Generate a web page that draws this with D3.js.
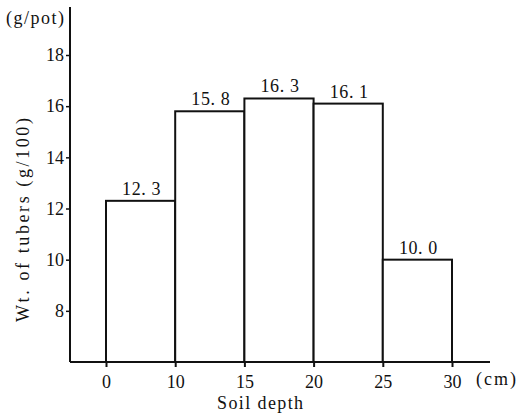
<!DOCTYPE html>
<html>
<head>
<meta charset="utf-8">
<script src="https://cdn.jsdelivr.net/npm/d3@7"></script>
<style>
  body { margin: 0; background: #fff; }
  svg text { font-family: "Liberation Serif", "DejaVu Serif", serif; fill: #111; }
</style>
</head>
<body>
<div id="chart"></div>
<script>
// soil depth boundaries (cm) and tuber weight per layer
const depthTicks = ["0", "10", "15", "20", "25", "30"];
const layers = [
  { from: "0", to: "10", value: 12.3 },
  { from: "10", to: "15", value: 15.8 },
  { from: "15", to: "20", value: 16.3 },
  { from: "20", to: "25", value: 16.1 },
  { from: "25", to: "30", value: 10.0 }
];
const yTicks = [8, 10, 12, 14, 16, 18];

(function () {
  let width = 525,
    height = 415;

  let svg = d3.select("#chart")
    .append("svg")
    .attr("width", width)
    .attr("height", height);

  let x = d3.scalePoint().domain(depthTicks).range([106, 452]);
  let y = d3.scaleLinear().domain([6, 18]).range([362, 55]);

  // bars
  svg.selectAll("rect.bar")
    .data(layers)
    .enter()
    .append("rect")
    .attr("class", "bar")
    .attr("x", d => x(d.from))
    .attr("y", d => y(d.value))
    .attr("width", d => x(d.to) - x(d.from))
    .attr("height", d => y(6) - y(d.value))
    .attr("fill", "#fff")
    .attr("stroke", "#111")
    .attr("stroke-width", 2);

  // value labels
  svg.selectAll("text.val")
    .data(layers)
    .enter()
    .append("text")
    .attr("class", "val")
    .attr("x", d => (x(d.from) + x(d.to)) / 2 + 1)
    .attr("y", d => y(d.value) - 6)
    .attr("text-anchor", "middle")
    .attr("font-size", 18)
    .attr("letter-spacing", 0.6)
    .text(d => d.value.toFixed(1).replace(".", ". "));

  // y axis
  let yAxis = d3.axisLeft(y).tickValues(yTicks).tickSize(4).tickPadding(2);
  let gy = svg.append("g")
    .attr("transform", "translate(70,0)")
    .call(yAxis);
  gy.select(".domain").remove();
  gy.selectAll(".tick line").attr("stroke", "#111").attr("stroke-width", 1.5);
  gy.selectAll(".tick text").attr("font-size", 18).attr("fill", "#111");
  svg.append("line")
    .attr("x1", 70).attr("x2", 70)
    .attr("y1", 7).attr("y2", y(6))
    .attr("stroke", "#111").attr("stroke-width", 2);

  // x axis
  let xAxis = d3.axisBottom(x).tickSize(5).tickPadding(8);
  let gx = svg.append("g")
    .attr("transform", `translate(0,${y(6)})`)
    .call(xAxis);
  gx.select(".domain").remove();
  gx.selectAll(".tick line").attr("stroke", "#111").attr("stroke-width", 2);
  gx.selectAll(".tick text").attr("font-size", 18).attr("fill", "#111");
  svg.append("line")
    .attr("x1", 70).attr("x2", 490)
    .attr("y1", y(6)).attr("y2", y(6))
    .attr("stroke", "#111").attr("stroke-width", 2);

  // axis titles
  svg.append("text")
    .attr("x", 6).attr("y", 24)
    .attr("font-size", 18)
    .attr("letter-spacing", 1.5)
    .text("(g/pot)");
  svg.append("text")
    .attr("x", 476).attr("y", 385)
    .attr("font-size", 18)
    .attr("letter-spacing", 2)
    .text("(cm)");
  svg.append("text")
    .attr("x", 217).attr("y", 409)
    .attr("font-size", 18)
    .attr("letter-spacing", 1.4)
    .text("Soil depth");
  svg.append("text")
    .attr("transform", "translate(29,322) rotate(-90)")
    .attr("font-size", 18)
    .attr("letter-spacing", 2.6)
    .text("Wt. of tubers (g/100)");
})();
</script>
</body>
</html>
